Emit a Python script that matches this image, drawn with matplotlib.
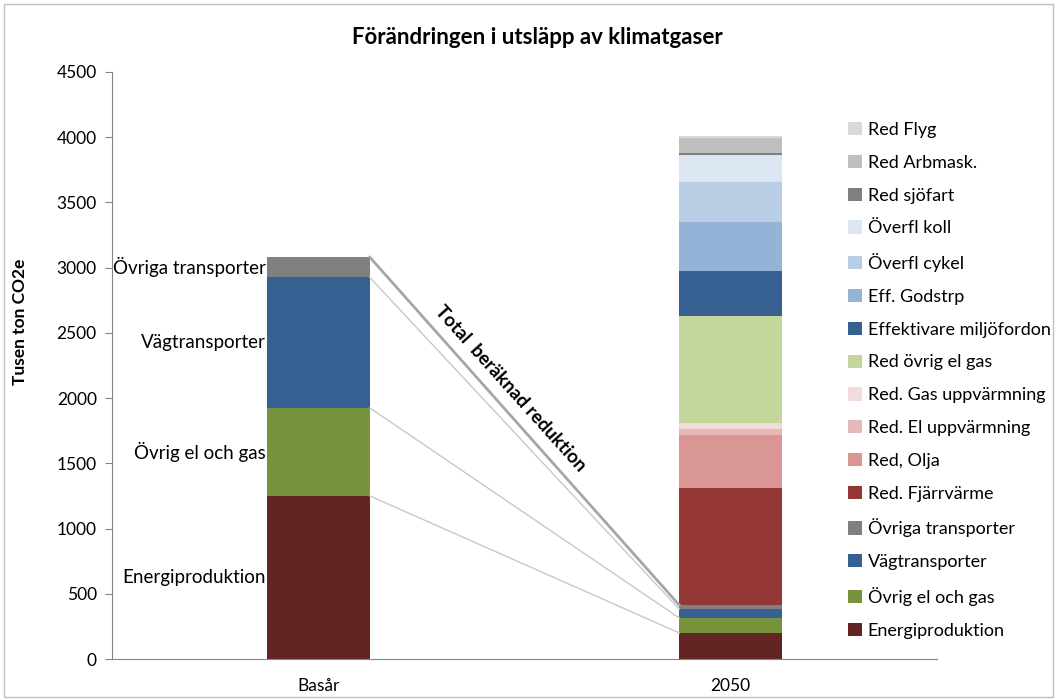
import numpy as np
import matplotlib.pyplot as plt
from matplotlib.patches import Rectangle

plt.rcParams['font.family'] = ['Lato', 'DejaVu Sans']

categories = ['Basår', '2050']
series = ['Energiproduktion', 'Övrig el och gas', 'Vägtransporter', 'Övriga transporter',
          'Red. Fjärrvärme', 'Red, Olja', 'Red. El uppvärmning', 'Red. Gas uppvärmning',
          'Red övrig el gas', 'Effektivare miljöfordon', 'Eff. Godstrp', 'Överfl cykel',
          'Överfl koll', 'Red sjöfart', 'Red Arbmask.', 'Red Flyg']
basar = [1250, 675, 1000, 155, 0, 0, 0, 0, 0, 0, 0, 0, 0, 0, 0, 0]
y2050 = [200, 115, 68, 31, 897, 407, 46, 46, 821, 345, 376, 307, 207, 10, 120, 15]
colors = ['#632523', '#77933C', '#376092', '#808080',
          '#953735', '#D99694', '#E6B9B8', '#F2DCDB',
          '#C3D69B', '#376092', '#95B3D7', '#B9CDE5',
          '#DCE6F2', '#7F7F7F', '#BFBFBF', '#D9D9D9']

fig = plt.figure(figsize=(10.57, 7), dpi=100)
ax = fig.add_axes([112/1057, 41/700, 825/1057, 587/700])

x = np.arange(len(categories))
w = 0.25
bottom = np.zeros(2)
handles = []
for name, a, b, c in zip(series, basar, y2050, colors):
    vals = np.array([a, b], dtype=float)
    h = ax.bar(x, vals, w, bottom=bottom, color=c, label=name, linewidth=0)
    handles.append(h)
    bottom += vals

# series lines between the bars (first four series)
cum_b = np.cumsum(basar[:4])
cum_2 = np.cumsum(y2050[:4])
for i in range(4):
    lw, col = (2.0, '#A6A6A6') if i == 3 else (1.0, '#C8C8C8')
    ax.plot([x[0] + w/2, x[1] - w/2], [cum_b[i], cum_2[i]], color=col, lw=lw, zorder=1)

# data labels on the base year bar
mids = cum_b - np.array(basar[:4]) / 2
for name, m in zip(series[:4], mids):
    ax.text(x[0] - w/2 - 0.003, m, name, ha='right', va='center', fontsize=13.5)

ax.text(0.465, 2070, 'Total  beräknad reduktion', rotation=-48, rotation_mode='anchor',
        ha='center', va='center', fontsize=13.5, fontweight='bold')

ax.set_xlim(-0.5, 1.5)
ax.set_ylim(0, 4500)
ax.set_yticks(np.arange(0, 4501, 500))
ax.set_xticks(x)
ax.set_xticklabels(categories)
ax.tick_params(axis='y', direction='out', length=5, color='#868686', labelsize=12.5, pad=6)
ax.tick_params(axis='x', length=0, labelsize=12.5, pad=14)
for s in ['top', 'right']:
    ax.spines[s].set_visible(False)
for s in ['left', 'bottom']:
    ax.spines[s].set_color('#868686')

fig.text(20/1057, 1 - 322/700, 'Tusen ton CO2e', rotation=90, ha='center', va='center',
         fontsize=12.5, fontweight='bold')
fig.text(537/1057, 1 - 37/700, 'Förändringen i utsläpp av klimatgaser', ha='center', va='center',
         fontsize=16, fontweight='bold')

leg = fig.legend(handles[::-1], series[::-1], loc='upper left', bbox_to_anchor=(848/1057, 1 - 122/700),
                 frameon=False, fontsize=13, handlelength=0.75, handleheight=0.75,
                 handletextpad=0.35, labelspacing=0.93, borderpad=0, borderaxespad=0)

fig.patches.append(Rectangle((0.004, 0.004), 0.992, 0.99, transform=fig.transFigure,
                             fill=False, edgecolor='#BFBFBF', lw=1))

plt.savefig('out.png', dpi=100)
